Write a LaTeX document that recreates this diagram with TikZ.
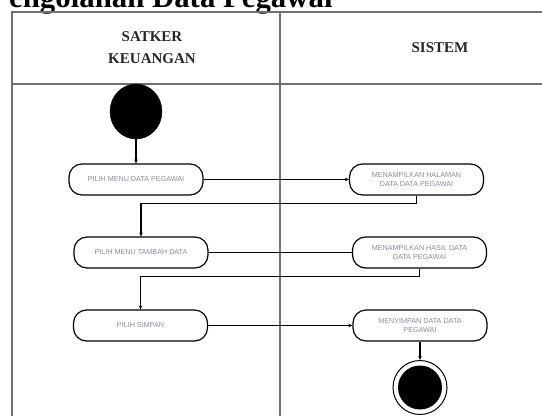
\documentclass[tikz,border=0pt]{standalone}
\usepackage{fontspec}
\setmainfont{Liberation Serif}
\newfontfamily\boxfont{Liberation Sans}
\usetikzlibrary{arrows.meta,shapes.geometric}
\definecolor{lanegray}{HTML}{707070}
\definecolor{txtgray}{HTML}{8A8A9A}
\tikzset{
  lane/.style={draw=lanegray, line width=2pt},
  act/.style={draw=black, line width=1.2pt, rounded corners=13pt,
    minimum width=134pt, minimum height=31pt, inner sep=1pt, align=center,
    font=\boxfont\fontsize{7.2}{9.8}\selectfont, text=txtgray},
  flow/.style={draw=black, line width=1.1pt},
  arr/.style={flow, -{Stealth[length=4pt,width=3.5pt]}},
  hdr/.style={font=\bfseries\fontsize{15}{21.5}\selectfont, align=center, inner sep=0pt, text=black!85},
}
\begin{document}
\begin{tikzpicture}[x=1pt,y=-1pt]
\useasboundingbox (0,0) rectangle (542,416);
% title (cut at top)
\node[anchor=base west, inner sep=0pt, font=\bfseries\fontsize{30.8}{31}\selectfont] (title) at (9,7) {engolahan Data Pegawai};
% swimlane frame
\coordinate (tl) at (11.5,11.5);
\coordinate (tr) at (542,11.5);
\coordinate (bl) at (11.5,416);
\coordinate (hl) at (11.5,83.5);
\coordinate (hr) at (542,83.5);
\coordinate (mt) at (280,11.5);
\coordinate (mb) at (280,416);
\draw[lane] (tr) -- (tl) -- (bl);
\draw[lane] (hl) -- (hr);
\draw[lane] (mt) -- (mb);
% headers
\node[hdr] (h1) at (152,47.5) {SATKER\\KEUANGAN};
\node[hdr] (h2) at (440,48) {SISTEM};
% start
\node[draw=black, fill=black, ellipse, minimum width=52pt, minimum height=55pt, inner sep=0pt] (start) at (136,111.5) {};
% activities
\node[act] (b1) at (136,179.5) {PILIH MENU DATA PEGAWAI};
\node[act] (b2) at (416.5,179.5) {MENAMPILKAN HALAMAN\\DATA DATA PEGAWAI};
\node[act] (b3) at (141,252.5) {PILIH MENU TAMBAH DATA};
\node[act] (b4) at (419.5,252.5) {MENAMPILKAN HASIL DATA\\DATA PEGAWAI};
\node[act] (b5) at (140.5,325.5) {PILIH SIMPAN};
\node[act] (b6) at (420,325.5) {MENYIMPAN DATA DATA\\PEGAWAI};
% end
\node[draw=black, line width=1pt, ellipse, minimum width=54pt, minimum height=54pt, inner sep=0pt] (end) at (420,387.5) {};
\node[fill=black, ellipse, minimum width=44pt, minimum height=44pt, inner sep=0pt] (endin) at (end.center) {};
% flows
\draw[arr] (start) -- (b1);
\draw[arr] (b1) -- (b2);
\draw[arr] (b2.south) -- ++(0,8) -| (b3.north);
\draw[flow] (b3) -- (b4);
\draw[arr] (b4.south) -- ++(0,8) -| (b5.north);
\draw[arr] (b5) -- (b6);
\draw[arr] (b6) -- (end);
\end{tikzpicture}
\end{document}
